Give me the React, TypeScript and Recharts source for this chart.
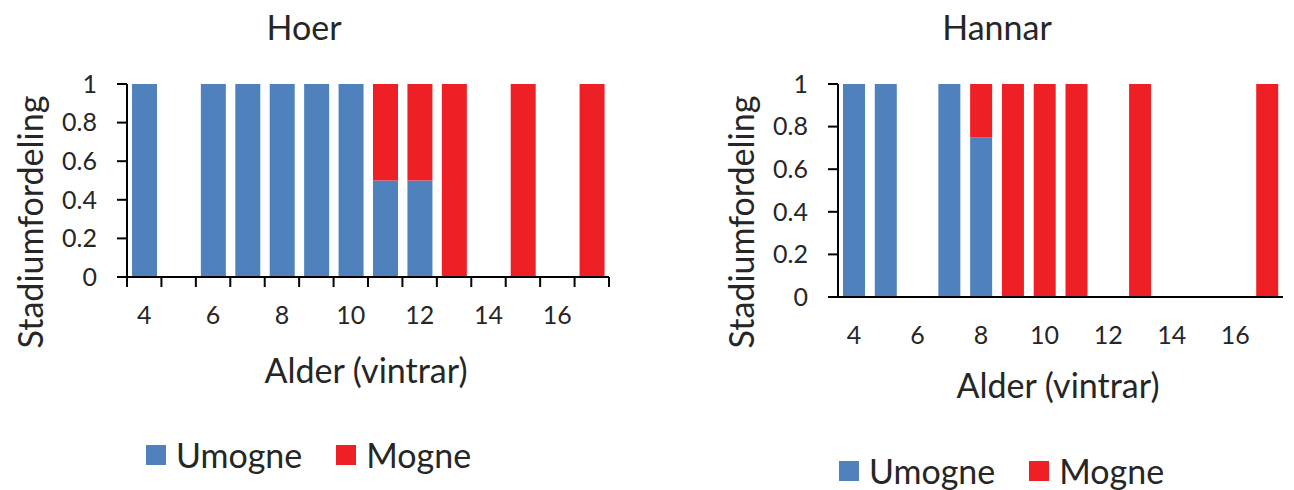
import React from 'react';
import { BarChart, Bar, XAxis, YAxis } from 'recharts';

const ages = [4, 5, 6, 7, 8, 9, 10, 11, 12, 13, 14, 15, 16, 17];
const yTicks = [0, 0.2, 0.4, 0.6, 0.8, 1];

// Hoer (females)
const hoerUmogne = [1, 0, 1, 1, 1, 1, 1, 0.5, 0.5, 0, 0, 0, 0, 0];
const hoerMogne = [0, 0, 0, 0, 0, 0, 0, 0.5, 0.5, 1, 0, 1, 0, 1];

// Hannar (males)
const hannarUmogne = [1, 1, 0, 1, 0.75, 0, 0, 0, 0, 0, 0, 0, 0, 0];
const hannarMogne = [0, 0, 0, 0, 0.25, 1, 1, 1, 0, 1, 0, 0, 0, 1];

const BLUE = '#4F81BD';
const RED = '#EE2026';
const TEXT = '#262626';
const FONT = 'Lato, "Open Sans", sans-serif';
const TICK_FS = 25;
const LABEL_FS = 34;

const toRows = (u: number[], m: number[]) =>
  ages.map((age, i) => ({ age, Umogne: u[i], Mogne: m[i] }));

// x tick: label only on even ages, optional excel-style marks between categories
const makeTick = (band: number, labelDy: number, marks: boolean) => (props: any) => {
  const { x, y, payload, index } = props;
  const age = payload.value;
  return (
    <g>
      {marks && (
        <line x1={x - band / 2} x2={x - band / 2} y1={y} y2={y + 10} stroke="#000" strokeWidth={2} />
      )}
      {marks && index === ages.length - 1 && (
        <line x1={x + band / 2} x2={x + band / 2} y1={y} y2={y + 10} stroke="#000" strokeWidth={2} />
      )}
      {age % 2 === 0 && (
        <text x={x} y={y + labelDy} textAnchor="middle" dominantBaseline="middle" fill={TEXT} fontSize={TICK_FS} fontFamily={FONT}>
          {age}
        </text>
      )}
    </g>
  );
};

type PanelProps = {
  title: string;
  u: number[];
  m: number[];
  left: number;
  width: number;
  plotLeft: number;
  plotRight: number;
  plotBottom: number;
  barSize: number;
  marks: boolean;
  titleX: number;
  xLabelX: number;
  xLabelY: number;
  yLabelX: number;
  legendY: number;
  legendX: number;
};

const Panel = (p: PanelProps) => {
  const top = 84;
  const yAxisW = 70;
  const xAxisH = 30;
  const band = (p.plotRight - p.plotLeft) / ages.length;
  const textStyle: React.CSSProperties = { position: 'absolute', color: TEXT, fontFamily: FONT, whiteSpace: 'nowrap', lineHeight: 1 };
  return (
    <>
      <div style={{ position: 'absolute', left: p.left, top: 0 }}>
        <BarChart
          width={p.width}
          height={490}
          data={toRows(p.u, p.m)}
          margin={{ top, right: p.width - p.plotRight, left: p.plotLeft - yAxisW, bottom: 490 - p.plotBottom - xAxisH }}
        >
          <XAxis
            dataKey="age"
            interval={0}
            height={xAxisH}
            axisLine={{ stroke: '#000', strokeWidth: 2 }}
            tickLine={false}
            tickSize={0}
            tickMargin={0}
            tick={makeTick(band, 41, p.marks)}
          />
          <YAxis
            width={yAxisW}
            domain={[0, 1]}
            ticks={yTicks}
            interval={0}
            axisLine={{ stroke: '#000', strokeWidth: 2 }}
            tickLine={{ stroke: '#000', strokeWidth: 2 }}
            tickSize={10}
            tickMargin={20}
            tick={{ fill: TEXT, fontSize: TICK_FS, fontFamily: FONT }}
          />
          <Bar dataKey="Umogne" stackId="a" fill={BLUE} barSize={p.barSize} isAnimationActive={false} />
          <Bar dataKey="Mogne" stackId="a" fill={RED} barSize={p.barSize} isAnimationActive={false} />
        </BarChart>
      </div>
      <div style={{ ...textStyle, left: p.titleX, top: 27, fontSize: LABEL_FS, transform: 'translate(-50%, -50%)' }}>{p.title}</div>
      <div style={{ ...textStyle, left: p.xLabelX, top: p.xLabelY, fontSize: LABEL_FS, transform: 'translate(-50%, -50%)' }}>
        Alder (vintrar)
      </div>
      <div
        style={{ ...textStyle, left: p.yLabelX, top: 222, fontSize: LABEL_FS, transform: 'translate(-50%, -50%) rotate(-90deg)' }}
      >
        Stadiumfordeling
      </div>
      <div
        style={{ ...textStyle, left: p.legendX, top: p.legendY, fontSize: LABEL_FS, display: 'flex', alignItems: 'center', transform: 'translateY(-50%)' }}
      >
        <span style={{ width: 20, height: 20, background: BLUE, display: 'inline-block', marginRight: 10 }} />
        <span>Umogne</span>
        <span style={{ width: 20, height: 20, background: RED, display: 'inline-block', marginLeft: 34, marginRight: 10 }} />
        <span>Mogne</span>
      </div>
    </>
  );
};

export default function App() {
  return (
    <div style={{ position: 'absolute', left: 0, top: 0, width: 1294, height: 490, background: '#fff', overflow: 'hidden' }}>
      <Panel
        title="Hoer"
        u={hoerUmogne}
        m={hoerMogne}
        left={0}
        width={640}
        plotLeft={127}
        plotRight={609}
        plotBottom={277}
        barSize={25}
        marks={true}
        titleX={304}
        xLabelX={366}
        xLabelY={370}
        yLabelX={30}
        legendX={146}
        legendY={455}
      />
      <Panel
        title="Hannar"
        u={hannarUmogne}
        m={hannarMogne}
        left={700}
        width={594}
        plotLeft={138}
        plotRight={583}
        plotBottom={297}
        barSize={22}
        marks={false}
        titleX={997}
        xLabelX={1058}
        xLabelY={385}
        yLabelX={741}
        legendX={839}
        legendY={471}
      />
    </div>
  );
}
